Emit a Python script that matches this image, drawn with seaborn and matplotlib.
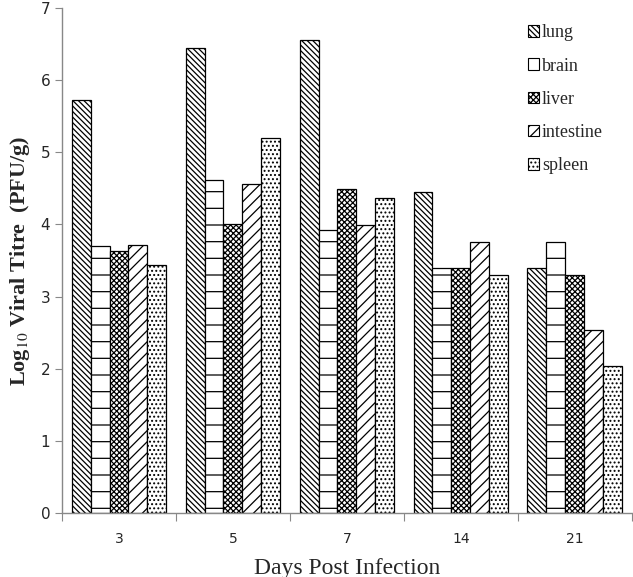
import matplotlib
matplotlib.use("Agg")
import matplotlib.pyplot as plt
import seaborn as sns
import pandas as pd
from matplotlib.patches import Patch

days = ["3", "5", "7", "14", "21"]
organs = ["lung", "brain", "liver", "intestine", "spleen"]
lung = [5.72, 6.44, 6.56, 4.45, 3.39]
brain = [3.70, 4.61, 3.92, 3.40, 3.76]
liver = [3.63, 4.00, 4.49, 3.40, 3.30]
intestine = [3.72, 4.56, 3.99, 3.76, 2.53]
spleen = [3.44, 5.20, 4.37, 3.30, 2.04]
hatches = ["\\\\\\\\\\\\", "-", "xxxxxx", "///", "...."]

values = dict(zip(organs, [lung, brain, liver, intestine, spleen]))
df = pd.DataFrame(
    [{"day": d, "organ": o, "titre": values[o][i]} for o in organs for i, d in enumerate(days)]
)

sns.set_style("white")
plt.rcParams["hatch.linewidth"] = 0.9
plt.rcParams["mathtext.fontset"] = "stix"

fig = plt.figure(figsize=(6.33, 5.77), dpi=100)
ax = fig.add_axes([0.098, 0.111, 0.9, 0.875])

sns.barplot(
    data=df, x="day", y="titre", hue="organ", order=days, hue_order=organs,
    palette=["white"] * 5, edgecolor="black", linewidth=0.9, width=0.83,
    saturation=1, ax=ax, legend=False,
)
for cont, h in zip(ax.containers, hatches):
    for bar in cont:
        bar.set_hatch(h)

ax.set_xlim(-0.5, 4.5)
ax.set_ylim(0, 7)
ax.set_xticks([i - 0.5 for i in range(6)])
ax.set_xticklabels([])
ax.set_xticks(range(5), minor=True)
ax.set_xticklabels(days, minor=True, fontsize=10, family="DejaVu Sans")
ax.tick_params(axis="x", which="major", direction="out", length=6, color="#888888", bottom=True)
ax.tick_params(axis="x", which="minor", length=0, pad=14)
ax.set_yticks(range(8))
ax.tick_params(axis="y", direction="out", length=5, color="#888888", left=True, labelsize=11)

for s in ["top", "right"]:
    ax.spines[s].set_visible(False)
for s in ["left", "bottom"]:
    ax.spines[s].set_color("#888888")
    ax.spines[s].set_linewidth(1.0)

ax.set_xlabel("Days Post Infection", family="Liberation Serif", fontsize=17, labelpad=8)
ax.set_ylabel("Log$_{10}$ Viral Titre  (PFU/g)", family="Liberation Serif", fontsize=16,
              fontweight="bold", labelpad=6)

handles = [Patch(facecolor="white", edgecolor="black", hatch=h, linewidth=0.8) for h in hatches]
ax.legend(handles, organs, loc="upper left", bbox_to_anchor=(0.79, 1.0), frameon=False,
          prop={"family": "Liberation Serif", "size": 13}, handlelength=0.6,
          handleheight=0.6, handletextpad=0.15, labelspacing=0.9)

fig.savefig("out.png", dpi=100)
